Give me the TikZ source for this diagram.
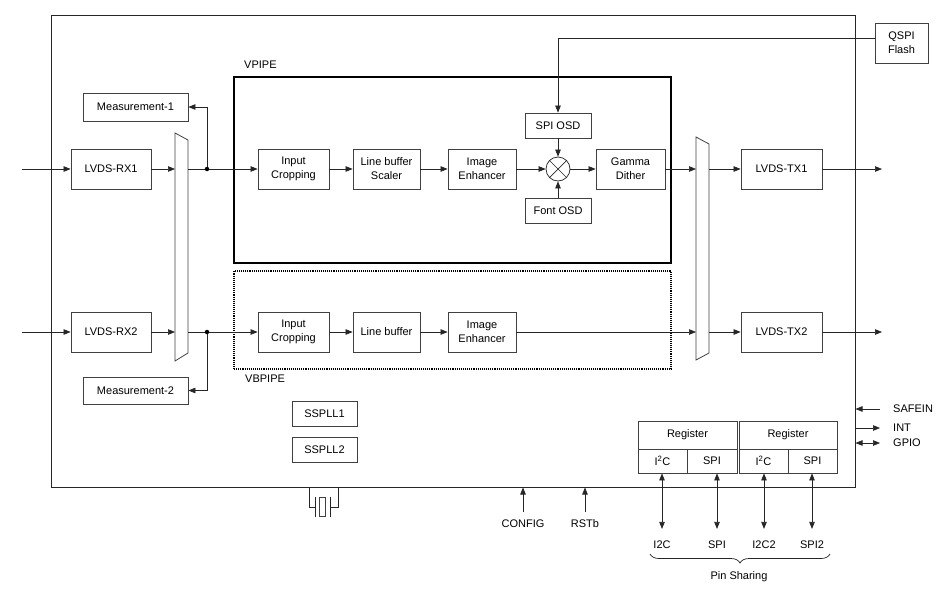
\documentclass[tikz,border=0pt]{standalone}
\usepackage{fontspec}
\setmainfont{Liberation Sans}
\usetikzlibrary{arrows.meta,decorations.pathreplacing}
\begin{document}
\begin{tikzpicture}[x=1pt,y=-1pt,
  box/.style={draw=black!75, line width=0.8pt, inner sep=0pt, align=center, font=\fontsize{11}{14}\selectfont},
  arr/.style={-{Triangle[length=7pt,width=5.5pt]}, line width=0.7pt, draw=black!85},
  darr/.style={{Triangle[length=7pt,width=5.5pt]}-{Triangle[length=7pt,width=5.5pt]}, line width=0.7pt, draw=black!85},
  ln/.style={line width=0.7pt, draw=black!85},
  jdot/.style={circle, fill=black, inner sep=0pt, minimum size=4.5pt},
  lbl/.style={font=\fontsize{11}{14}\selectfont, inner sep=0pt}]
\useasboundingbox (0,0) rectangle (950,600);
% chip outline
\node[draw=black!85, line width=1pt, minimum width=804pt, minimum height=472pt, inner sep=0pt] (chip) at (453,251) {};
% pipes
\node[draw=black, line width=1.2pt, minimum width=437pt, minimum height=186pt, inner sep=0pt] (vpipe) at (452.5,170) {};
\node[draw=black, densely dotted, line width=1.1pt, minimum width=437pt, minimum height=98pt, inner sep=0pt] (vbpipe) at (452.5,320) {};
\node[lbl, anchor=west] (vpl) at (244,65) {VPIPE};
\node[lbl, anchor=west] (vbl) at (245,379) {VBPIPE};
% QSPI
\node[box, minimum width=53pt, minimum height=40pt] (qspi) at (901.5,43) {QSPI\\Flash};
% left side
\node[box, minimum width=105pt, minimum height=28pt] (meas1) at (135.5,107) {Measurement-1};
\node[box, minimum width=105pt, minimum height=27pt] (meas2) at (135.5,390.5) {Measurement-2};
\node[box, minimum width=80pt, minimum height=40pt] (rx1) at (111,169) {LVDS-RX1};
\node[box, minimum width=80pt, minimum height=40pt] (rx2) at (111,332) {LVDS-RX2};
% muxes
\draw[ln, draw=black!75, line width=0.8pt] (175,133) -- (188,140) -- (188,353) -- (175,361) -- cycle;
\draw[ln, draw=black!75, line width=0.8pt] (696,137) -- (709,144) -- (709,353) -- (696,360) -- cycle;
\coordinate (m1i1) at (175,169); \coordinate (m1o1) at (188,169);
\coordinate (m1i2) at (175,332); \coordinate (m1o2) at (188,332);
\coordinate (m2i1) at (696,169); \coordinate (m2o1) at (709,169);
\coordinate (m2i2) at (696,332); \coordinate (m2o2) at (709,332);
\node[jdot] (j1) at (207,169) {};
\node[jdot] (j2) at (207,332) {};
% pipe blocks
\node[box, minimum width=71pt, minimum height=40pt] (crop1) at (293.5,169) {Input\\Cropping};
\node[box, minimum width=67pt, minimum height=40pt] (lbs) at (386.5,169) {Line buffer\\Scaler};
\node[box, minimum width=68pt, minimum height=40pt] (enh1) at (482,169) {Image\\Enhancer};
\node[box, minimum width=71pt, minimum height=40pt] (crop2) at (293.5,332) {Input\\Cropping};
\node[box, minimum width=67pt, minimum height=40pt] (lb) at (386.5,332) {Line buffer};
\node[box, minimum width=68pt, minimum height=40pt] (enh2) at (482,332) {Image\\Enhancer};
\node[box, minimum width=66pt, minimum height=25pt] (spiosd) at (558,125.5) {SPI OSD};
\node[box, minimum width=66pt, minimum height=25pt] (fontosd) at (558,210.5) {Font OSD};
\node[draw=black!80, line width=0.8pt, circle, minimum size=24pt, inner sep=0pt] (mix) at (558,169) {};
\draw[ln] (mix.north west) -- (mix.south east);
\draw[ln] (mix.north east) -- (mix.south west);
\node[box, minimum width=69pt, minimum height=40pt] (gamma) at (630.5,169) {Gamma\\Dither};
% TX
\node[box, minimum width=81pt, minimum height=40pt] (tx1) at (781.5,169) {LVDS-TX1};
\node[box, minimum width=81pt, minimum height=40pt] (tx2) at (781.5,332) {LVDS-TX2};
% PLLs
\node[box, minimum width=65pt, minimum height=25pt] (pll1) at (324.5,413.5) {SSPLL1};
\node[box, minimum width=65pt, minimum height=25pt] (pll2) at (324.5,449.5) {SSPLL2};
% registers
\node[box, minimum width=99pt, minimum height=28pt] (reg1) at (687.5,435) {Register};
\node[box, minimum width=49pt, minimum height=24pt] (c1a) at (662.5,461) {I\textsuperscript{2}C};
\node[box, minimum width=50pt, minimum height=24pt] (c1b) at (712,461) {SPI};
\node[box, minimum width=98pt, minimum height=28pt] (reg2) at (788,435) {Register};
\node[box, minimum width=49pt, minimum height=24pt] (c2a) at (763.5,461) {I\textsuperscript{2}C};
\node[box, minimum width=49pt, minimum height=24pt] (c2b) at (812.5,461) {SPI};
% bottom labels
\node[lbl, inner ysep=12pt] (li2c) at (662,545) {I2C};
\node[lbl, inner ysep=12pt] (lspi) at (717,545) {SPI};
\node[lbl, inner ysep=12pt] (li2c2) at (764,545) {I2C2};
\node[lbl, inner ysep=12pt] (lspi2) at (812,545) {SPI2};
\node[lbl] (pins) at (739,577) {Pin Sharing};
\draw[ln, decorate, decoration={brace, amplitude=9pt, mirror}] (650,554) -- (830,554);
\node[lbl, inner ysep=8pt] (config) at (523,524) {CONFIG};
\node[lbl, inner ysep=8pt] (rstb) at (585,524) {RSTb};
% right pins
\node[lbl, anchor=west] (safein) at (893,409) {SAFEIN};
\node[lbl, anchor=west] (int) at (893,428) {INT};
\node[lbl, anchor=west] (gpio) at (893,443) {GPIO};
\coordinate (psafe) at (880,409);
\coordinate (pint) at (880,428);
\coordinate (pgpio) at (880,443);
% external I/O coordinates
\coordinate (in1) at (22,169);
\coordinate (in2) at (22,332);
\coordinate (out1) at (882,169);
\coordinate (out2) at (882,332);
% connectors
\draw[arr] (in1) -- (rx1.west);
\draw[arr] (in2) -- (rx2.west);
\draw[arr] (rx1.east) -- (m1i1);
\draw[arr] (rx2.east) -- (m1i2);
\draw[ln] (m1o1) -- (j1);
\draw[ln] (m1o2) -- (j2);
\draw[arr] (j1) -- (crop1.west);
\draw[arr] (j2) -- (crop2.west);
\draw[arr] (j1) |- (meas1.east);
\draw[arr] (j2) |- (meas2.east);
\draw[arr] (crop1) -- (lbs);
\draw[arr] (lbs) -- (enh1);
\draw[arr] (enh1) -- (mix.west);
\draw[arr] (spiosd) -- (mix.north);
\draw[arr] (fontosd) -- (mix.south);
\draw[arr] (mix.east) -- (gamma.west);
\draw[arr] (gamma.east) -- (m2i1);
\draw[arr] (crop2) -- (lb);
\draw[arr] (lb) -- (enh2);
\draw[arr] (enh2.east) -- (m2i2);
\draw[arr] (m2o1) -- (tx1.west);
\draw[arr] (m2o2) -- (tx2.west);
\draw[arr] (tx1.east) -- (out1);
\draw[arr] (tx2.east) -- (out2);
\draw[arr] ([yshift=5pt]qspi.west) -| (spiosd.north);
\draw[darr] (c1a.south -| li2c) -- (li2c.north);
\draw[darr] (c1b.south -| lspi) -- (lspi.north);
\draw[darr] (c2a.south -| li2c2) -- (li2c2.north);
\draw[darr] (c2b.south -| lspi2) -- (lspi2.north);
\draw[arr] (config.north) -- (config.north |- chip.south);
\draw[arr] (rstb.north) -- (rstb.north |- chip.south);
\draw[arr] (psafe) -- (psafe -| chip.east);
\draw[arr] (pint -| chip.east) -- (pint);
\draw[darr] (pgpio -| chip.east) -- (pgpio);
% crystal
\draw[ln] (309,487) -- (309,507) -- (315,507);
\draw[ln] (315,497) -- (315,517);
\draw[ln, draw=black!75] (319.5,497) rectangle (325.5,516);
\draw[ln] (330,497) -- (330,517);
\draw[ln] (330,507) -- (338,507) -- (338,487);
\end{tikzpicture}
\end{document}
